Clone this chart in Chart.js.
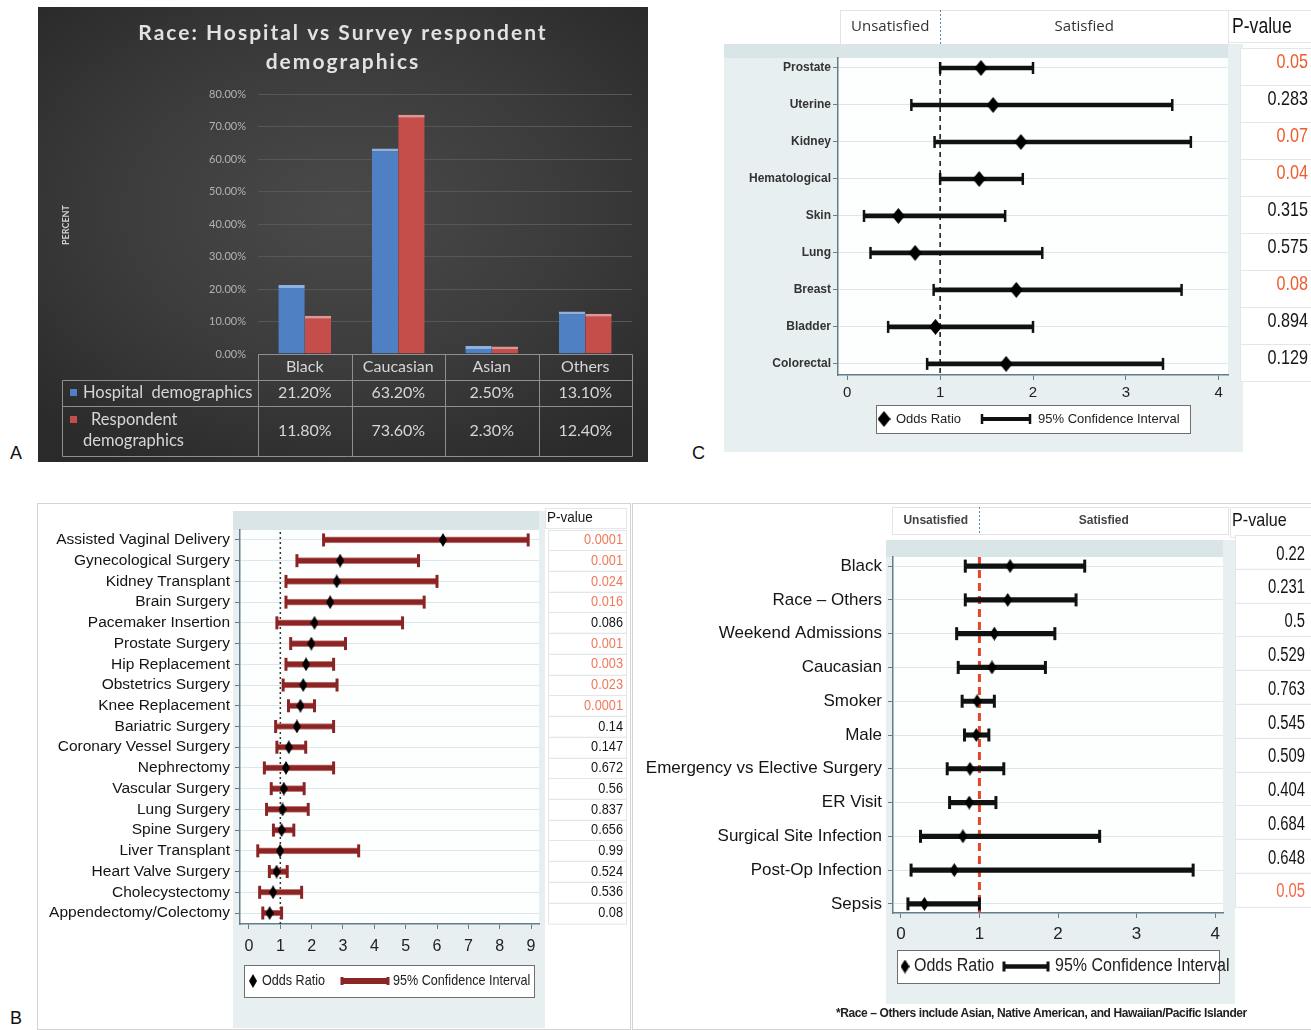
<!DOCTYPE html>
<html lang="en">
<head>
<meta charset="utf-8">
<title>Race demographics and satisfaction odds ratios</title>
<script src="https://cdn.jsdelivr.net/npm/chart.js@4.4.1/dist/chart.umd.min.js"></script>
<style>
  html, body { margin: 0; padding: 0; background: #fff; }
  body { position: relative; width: 1311px; height: 1030px; overflow: hidden; font-family: "Liberation Sans", Arial, sans-serif; }
  .box { position: absolute; box-sizing: border-box; }
  canvas { position: absolute; }
  .tag { position: absolute; font-size: 18px; line-height: 22px; color: #111; }
  .note { position: absolute; left: 836px; top: 1006px; font: bold 12px "Liberation Sans", Arial, sans-serif; letter-spacing: -0.4px; color: #222; white-space: nowrap; }
</style>
</head>
<body>

<!-- panel A -->
<div class="box" style="left:38px;top:7px;width:610px;height:455px;background:radial-gradient(ellipse 70% 65% at 50% 45%, #4a4a4a 0%, #3b3b3b 55%, #2a2a2a 100%);"></div>
<canvas id="raceChart" width="610" height="455" style="left:38px;top:7px;"></canvas>
<div class="tag" style="left:10px;top:442px;">A</div>

<!-- panel C -->
<div class="box" style="left:724px;top:44px;width:519px;height:408px;background:#e7eff1;"></div>
<div class="box" style="left:724px;top:44px;width:504px;height:14px;background:#dae5e8;"></div>
<canvas id="cancerChart" width="591" height="460" style="left:720px;top:0px;"></canvas>
<div class="tag" style="left:692px;top:442px;">C</div>

<!-- panel B -->
<div class="box" style="left:37px;top:503px;width:594px;height:527px;border:1px solid #d3d3d3;"></div>
<div class="box" style="left:632px;top:503px;width:680px;height:527px;border:1px solid #d3d3d3;"></div>
<div class="box" style="left:233px;top:511px;width:312px;height:517px;background:#e7eff1;"></div>
<div class="box" style="left:233px;top:511px;width:306px;height:19px;background:#dae5e8;"></div>
<canvas id="surgeryChart" width="592" height="524" style="left:38px;top:504px;"></canvas>
<div class="box" style="left:886px;top:540px;width:349px;height:464px;background:#e7eff1;"></div>
<div class="box" style="left:886px;top:540px;width:337px;height:17px;background:#dae5e8;"></div>
<canvas id="factorChart" width="679" height="524" style="left:632px;top:504px;"></canvas>
<div class="note">*Race – Others include Asian, Native American, and Hawaiian/Pacific Islander</div>
<div class="tag" style="left:10px;top:1007px;">B</div>

<script>
// ---------- A: race of hospital population vs survey respondents (%) ----------
const raceCategories = ['Black', 'Caucasian', 'Asian', 'Others'];
const hospitalPct = [21.2, 63.2, 2.5, 13.1];
const respondentPct = [11.8, 73.6, 2.3, 12.4];
const raceTitle = ['Race: Hospital vs Survey respondent', 'demographics'];

// ---------- C: cancer type ----------
const cancerTypes = ['Prostate', 'Uterine', 'Kidney', 'Hematological', 'Skin', 'Lung', 'Breast', 'Bladder', 'Colorectal'];
const cancerOR   = [1.44, 1.57, 1.87, 1.42, 0.55, 0.73, 1.82, 0.95, 1.71];
const cancerLow  = [1.00, 0.69, 0.94, 1.00, 0.18, 0.25, 0.93, 0.44, 0.86];
const cancerHigh = [2.00, 3.50, 3.70, 1.89, 1.70, 2.10, 3.60, 2.00, 3.40];
const cancerP    = ['0.05', '0.283', '0.07', '0.04', '0.315', '0.575', '0.08', '0.894', '0.129'];

// ---------- B (left): surgical procedure ----------
const surgeryTypes = ['Assisted Vaginal Delivery', 'Gynecological Surgery', 'Kidney Transplant', 'Brain Surgery',
  'Pacemaker Insertion', 'Prostate Surgery', 'Hip Replacement', 'Obstetrics Surgery', 'Knee Replacement',
  'Bariatric Surgery', 'Coronary Vessel Surgery', 'Nephrectomy', 'Vascular Surgery', 'Lung Surgery',
  'Spine Surgery', 'Liver Transplant', 'Heart Valve Surgery', 'Cholecystectomy', 'Appendectomy/Colectomy'];
const surgeryOR   = [6.19, 2.91, 2.80, 2.59, 2.09, 1.99, 1.82, 1.73, 1.64, 1.53, 1.27, 1.18, 1.11, 1.07, 1.04, 0.99, 0.88, 0.77, 0.66];
const surgeryLow  = [2.38, 1.53, 1.18, 1.18, 0.89, 1.33, 1.18, 1.09, 1.26, 0.85, 0.89, 0.49, 0.71, 0.56, 0.78, 0.28, 0.65, 0.34, 0.44];
const surgeryHigh = [8.91, 5.41, 6.00, 5.59, 4.90, 3.08, 2.70, 2.81, 2.09, 2.70, 1.81, 2.70, 1.76, 1.89, 1.43, 3.50, 1.22, 1.68, 1.04];
const surgeryP    = ['0.0001', '0.001', '0.024', '0.016', '0.086', '0.001', '0.003', '0.023', '0.0001', '0.14',
  '0.147', '0.672', '0.56', '0.837', '0.656', '0.99', '0.524', '0.536', '0.08'];

// ---------- B (right): patient factors ----------
const factorNames = ['Black', 'Race – Others', 'Weekend Admissions', 'Caucasian', 'Smoker', 'Male',
  'Emergency vs Elective Surgery', 'ER Visit', 'Surgical Site Infection', 'Post-Op Infection', 'Sepsis'];
const factorOR   = [1.39, 1.36, 1.19, 1.16, 0.97, 0.96, 0.88, 0.87, 0.79, 0.68, 0.30];
const factorLow  = [0.82, 0.82, 0.71, 0.73, 0.78, 0.81, 0.59, 0.62, 0.25, 0.13, 0.09];
const factorHigh = [2.34, 2.23, 1.96, 1.84, 1.19, 1.12, 1.31, 1.21, 2.53, 3.72, 1.00];
const factorP    = ['0.22', '0.231', '0.5', '0.529', '0.763', '0.545', '0.509', '0.404', '0.684', '0.648', '0.05'];

const satisfactionSides = ['Unsatisfied', 'Satisfied'];

// ---------- shared helpers ----------
const SANS = '"Liberation Sans", Arial, sans-serif';
Chart.defaults.font.family = SANS;
Chart.defaults.color = '#222';

function diamondImage(w, h, color) {
  const c = document.createElement('canvas');
  c.width = w; c.height = h;
  const g = c.getContext('2d');
  g.fillStyle = color;
  g.beginPath();
  g.moveTo(w / 2, 0); g.lineTo(w, h / 2); g.lineTo(w / 2, h); g.lineTo(0, h / 2);
  g.closePath(); g.fill();
  return c;
}

// condensed text: horizontal squeeze of a regular face
function narrowText(ctx, text, x, y, align, sx) {
  ctx.save();
  ctx.translate(x, y);
  ctx.scale(sx, 1);
  ctx.textAlign = align;
  ctx.textBaseline = 'middle';
  ctx.fillText(text, 0, 0);
  ctx.restore();
}

// ---------- A: grouped bars with a data table underneath ----------
const raceTable = {
  id: 'raceTable',
  afterDraw(chart, args, opts) {
    const { ctx, chartArea: ca } = chart;
    const labels = chart.data.labels;
    const n = labels.length;
    const colW = (ca.right - ca.left) / n;
    const left = 24;
    const y0 = ca.bottom, y1 = y0 + 26, y2 = y1 + 26, y3 = y2 + 50;
    const line = (ax, ay, bx, by) => {
      ctx.beginPath();
      ctx.moveTo(Math.round(ax) + 0.5, Math.round(ay) + 0.5);
      ctx.lineTo(Math.round(bx) + 0.5, Math.round(by) + 0.5);
      ctx.stroke();
    };
    ctx.save();

    // spaced two-line heading
    ctx.fillStyle = '#e2e2e2';
    ctx.font = 'bold 21px Lato';
    ctx.letterSpacing = '2px';
    ctx.textAlign = 'center';
    ctx.textBaseline = 'middle';
    opts.title.forEach((t, i) => ctx.fillText(t, chart.width / 2, 26.5 + i * 29));
    ctx.letterSpacing = '0px';

    ctx.strokeStyle = '#8f8f8f';
    ctx.lineWidth = 1;
    line(ca.left, y0, ca.right, y0);
    line(left, y1, ca.right, y1);
    line(left, y2, ca.right, y2);
    line(left, y3, ca.right, y3);
    line(left, y1, left, y3);
    for (let k = 0; k <= n; k++) line(ca.left + k * colW, y0, ca.left + k * colW, y3);

    ctx.fillStyle = '#d6d6d6';
    ctx.font = '16px Lato';
    labels.forEach((lab, k) => ctx.fillText(lab, ca.left + (k + 0.5) * colW, (y0 + y1) / 2));

    const rowMid = [(y1 + y2) / 2, (y2 + y3) / 2];
    chart.data.datasets.forEach((ds, r) => {
      ctx.textAlign = 'center';
      ctx.fillStyle = '#d6d6d6';
      ds.data.forEach((v, k) => ctx.fillText(v.toFixed(2) + '%', ca.left + (k + 0.5) * colW, rowMid[r]));
      ctx.textAlign = 'left';
      ctx.font = '16.5px Lato';
      if (r === 0) {
        ctx.fillStyle = ds.backgroundColor;
        ctx.fillRect(left + 8, rowMid[0] - 4, 7, 7);
        ctx.fillStyle = '#d6d6d6';
        ctx.fillText(ds.label.replace(' ', '  '), left + 21, rowMid[0]);
      } else {
        const words = ds.label.split(' ');
        ctx.fillStyle = ds.backgroundColor;
        ctx.fillRect(left + 8, y2 + 10, 7, 7);
        ctx.fillStyle = '#d6d6d6';
        ctx.fillText(words[0], left + 29, y2 + 14);
        ctx.fillText(words.slice(1).join(' '), left + 21, y2 + 35);
      }
      ctx.font = '16px Lato';
    });

    // rotated axis caption
    ctx.save();
    ctx.translate(28, 218);
    ctx.rotate(-Math.PI / 2);
    ctx.font = 'bold 9px Lato';
    ctx.fillStyle = '#cfcfcf';
    ctx.textAlign = 'center';
    ctx.fillText(chart.options.scales.y.title.text, 0, 0);
    ctx.restore();
    ctx.restore();
  }
};

new Chart(document.getElementById('raceChart'), {
  type: 'bar',
  data: {
    labels: raceCategories,
    datasets: [
      { label: 'Hospital demographics', data: hospitalPct, backgroundColor: '#4f80c4',
        borderColor: '#8db2e2', borderWidth: { top: 3, right: 0, bottom: 0, left: 0 }, borderSkipped: false,
        categoryPercentage: 0.565, barPercentage: 1 },
      { label: 'Respondent demographics', data: respondentPct, backgroundColor: '#c54e4b',
        borderColor: '#e49390', borderWidth: { top: 3, right: 0, bottom: 0, left: 0 }, borderSkipped: false,
        categoryPercentage: 0.565, barPercentage: 1 }
    ]
  },
  options: {
    responsive: false, animation: false, events: [],
    layout: { padding: { left: 16, right: 16, top: 87, bottom: 108 } },
    plugins: {
      legend: { display: false },
      tooltip: { enabled: false },
      title: { display: false },
      raceTable: { title: raceTitle }
    },
    scales: {
      x: { display: false },
      y: {
        min: 0, max: 80,
        title: { display: false, text: 'PERCENT' },
        afterFit: s => { s.width = 204; },
        ticks: { stepSize: 10, padding: 12, color: '#b3b3b3', font: { family: 'Lato', size: 11 },
                 callback: v => v.toFixed(2) + '%' },
        grid: { color: '#575757', drawTicks: false },
        border: { display: false }
      }
    }
  },
  plugins: [raceTable]
});

// ---------- forest plots (odds ratio + 95% CI + p-value column) ----------
function forestPlot(cfg) {
  const canvas = document.getElementById(cfg.id);
  const W = canvas.width, H = canvas.height;
  const rows = cfg.labels.map((_, i) => i);
  const A = cfg.area;
  const yAxisW = A.left - 2, xAxisH = 34;
  const diamond = diamondImage(cfg.diamond[0], cfg.diamond[1], '#000');

  const decor = {
    id: 'forestDecor',
    beforeDraw(chart) {
      const { ctx, chartArea: ca } = chart;
      ctx.save();
      ctx.fillStyle = '#fdfefe';
      ctx.fillRect(ca.left, ca.top, ca.right - ca.left, ca.bottom - ca.top);
      ctx.restore();
    },
    beforeDatasetsDraw(chart) {
      const { ctx, chartArea: ca, scales: { x } } = chart;
      const px = x.getPixelForValue(cfg.ref.value);
      ctx.save();
      ctx.strokeStyle = cfg.ref.color;
      ctx.lineWidth = cfg.ref.width;
      ctx.setLineDash(cfg.ref.dash);
      ctx.beginPath();
      ctx.moveTo(px, ca.top + (cfg.ref.inset || 0));
      ctx.lineTo(px, ca.bottom);
      ctx.stroke();
      ctx.restore();
    },
    afterDraw(chart) {
      const { ctx, scales: { x, y } } = chart;
      const ds = chart.data.datasets;
      ctx.save();

      // Unsatisfied | Satisfied strip split at the reference value
      if (cfg.header) {
        const h = cfg.header;
        const px = Math.round(x.getPixelForValue(cfg.ref.value)) + 0.5;
        ctx.fillStyle = '#fff';
        ctx.fillRect(h.x0, h.y0, h.x1 - h.x0, h.y1 - h.y0);
        ctx.strokeStyle = '#e0e4e6';
        ctx.lineWidth = 1;
        ctx.strokeRect(h.x0 + 0.5, h.y0 + 0.5, h.x1 - h.x0, h.y1 - h.y0);
        ctx.strokeStyle = '#5b86a8';
        ctx.setLineDash([2, 2]);
        ctx.beginPath(); ctx.moveTo(px, h.y0); ctx.lineTo(px, h.y1); ctx.stroke();
        ctx.setLineDash([]);
        ctx.fillStyle = h.color;
        ctx.font = h.font;
        ctx.textAlign = 'center';
        ctx.textBaseline = 'middle';
        ctx.fillText(satisfactionSides[0], (h.x0 + px) / 2, (h.y0 + h.y1) / 2);
        ctx.fillText(satisfactionSides[1], (px + h.x1) / 2, (h.y0 + h.y1) / 2);
      }

      // p-value column
      const P = cfg.pcol;
      const hd = P.head;
      ctx.fillStyle = '#fff';
      ctx.fillRect(hd.x0, hd.y0, hd.x1 - hd.x0, hd.y1 - hd.y0);
      ctx.strokeStyle = '#e3e7e9';
      ctx.lineWidth = 1;
      ctx.strokeRect(hd.x0 + 0.5, hd.y0 + 0.5, hd.x1 - hd.x0, hd.y1 - hd.y0);
      ctx.fillStyle = '#151515';
      ctx.font = hd.font;
      narrowText(ctx, 'P-value', hd.tx, hd.ty, 'left', hd.sx);
      rows.forEach(i => {
        const py = y.getPixelForValue(i);
        const top = Math.round(py + P.cellTop) + 0.5;
        ctx.fillStyle = '#fff';
        ctx.fillRect(P.x0, top, P.x1 - P.x0, P.cellH);
        ctx.strokeStyle = '#e3e7e9';
        ctx.strokeRect(P.x0 + 0.5, top, P.x1 - P.x0, P.cellH);
        ctx.fillStyle = parseFloat(cfg.p[i]) <= cfg.sig ? cfg.sigColor : '#151515';
        ctx.font = P.font;
        narrowText(ctx, cfg.p[i], P.tx, py + P.dy, 'right', P.sx);
      });

      // legend box
      const L = cfg.legend;
      const cy = (L.y0 + L.y1) / 2;
      ctx.fillStyle = '#fff';
      ctx.fillRect(L.x0, L.y0, L.x1 - L.x0, L.y1 - L.y0);
      ctx.strokeStyle = '#6f6f6f';
      ctx.strokeRect(L.x0 + 0.5, L.y0 + 0.5, L.x1 - L.x0, L.y1 - L.y0);
      ctx.drawImage(diamond, L.dx - diamond.width / 2, cy - diamond.height / 2);
      ctx.fillStyle = '#222';
      ctx.font = L.font;
      narrowText(ctx, ds[3].label, L.t1, cy, 'left', L.sx);
      ctx.strokeStyle = cfg.ciColor;
      ctx.lineWidth = cfg.ciWidth;
      ctx.beginPath(); ctx.moveTo(L.c0, cy); ctx.lineTo(L.c1, cy); ctx.stroke();
      ctx.lineWidth = cfg.capW;
      ctx.beginPath();
      ctx.moveTo(L.c0, cy - L.capHalf); ctx.lineTo(L.c0, cy + L.capHalf);
      ctx.moveTo(L.c1, cy - L.capHalf); ctx.lineTo(L.c1, cy + L.capHalf);
      ctx.stroke();
      narrowText(ctx, ds[0].label, L.t2, cy, 'left', L.sx);
      ctx.restore();
    }
  };

  return new Chart(canvas, {
    type: 'bar',
    data: {
      datasets: [
        { label: '95% Confidence Interval',
          data: rows.map(i => ({ y: i, x: [cfg.low[i], cfg.high[i]] })),
          backgroundColor: cfg.ciColor, borderColor: cfg.ciEdge || cfg.ciColor,
          borderWidth: cfg.ciEdgeW || 0, borderSkipped: false, barThickness: cfg.ciWidth, order: 3 },
        { type: 'scatter', label: 'CI lower',
          data: rows.map(i => ({ x: cfg.low[i], y: i })),
          pointStyle: 'line', pointRotation: 90, pointRadius: cfg.capHalf,
          pointBorderWidth: cfg.capW, pointBorderColor: cfg.ciColor, order: 2 },
        { type: 'scatter', label: 'CI upper',
          data: rows.map(i => ({ x: cfg.high[i], y: i })),
          pointStyle: 'line', pointRotation: 90, pointRadius: cfg.capHalf,
          pointBorderWidth: cfg.capW, pointBorderColor: cfg.ciColor, order: 2 },
        { type: 'scatter', label: 'Odds Ratio',
          data: rows.map(i => ({ x: cfg.or[i], y: i })),
          pointStyle: diamond, pointRadius: 5, order: 1 }
      ]
    },
    options: {
      indexAxis: 'y', responsive: false, animation: false, events: [],
      layout: { padding: { left: A.left - yAxisW, top: A.top, right: W - A.right, bottom: H - A.bottom - xAxisH } },
      plugins: { legend: { display: false }, tooltip: { enabled: false }, title: { display: false } },
      scales: {
        x: {
          type: 'linear', min: cfg.xMin, max: cfg.xMax, offset: false,
          afterBuildTicks: s => { s.ticks = cfg.xTicks.map(v => ({ value: v })); },
          afterFit: s => { s.height = xAxisH; },
          grid: { offset: false, drawOnChartArea: false, drawTicks: true, tickLength: 5, tickColor: cfg.axisColor },
          border: { display: true, color: cfg.axisColor, width: 1.5 },
          ticks: { font: cfg.xFont, color: '#222', padding: cfg.xPad, maxRotation: 0, autoSkip: false }
        },
        y: {
          type: 'linear', reverse: true, min: cfg.yMin, max: cfg.yMax, offset: false,
          afterBuildTicks: s => { s.ticks = rows.map(v => ({ value: v })); },
          afterFit: s => { s.width = yAxisW; },
          grid: { offset: false, color: cfg.gridColor, lineWidth: 1, drawTicks: true, tickLength: 5, tickColor: cfg.axisColor },
          border: { display: true, color: cfg.axisColor, width: 1.5 },
          ticks: { font: cfg.yFont, color: cfg.yColor || '#141414', padding: cfg.yPad, autoSkip: false,
                   callback: v => cfg.labels[v] }
        }
      }
    },
    plugins: [decor]
  });
}

// C: cancer type
forestPlot({
  id: 'cancerChart',
  labels: cancerTypes, or: cancerOR, low: cancerLow, high: cancerHigh, p: cancerP,
  sig: 0.08, sigColor: '#ee5b2e',
  area: { left: 118, right: 508, top: 58, bottom: 375 },
  xMin: -0.1, xMax: 4.1, xTicks: [0, 1, 2, 3, 4], yMin: -0.27, yMax: 8.3,
  yFont: { size: 12, weight: 'bold' }, yColor: '#333', yPad: 2, xFont: { size: 15 }, xPad: 4,
  axisColor: '#627d8b', gridColor: '#dce7eb',
  ciColor: '#111', ciWidth: 4, capW: 2.5, capHalf: 6,
  diamond: [13, 16],
  ref: { value: 1, color: '#111', width: 1.5, dash: [5, 4], inset: 4 },
  header: { x0: 120, x1: 508, y0: 10, y1: 44, font: '15px "Open Sans"', color: '#333' },
  pcol: {
    head: { x0: 508, x1: 591, y0: 10, y1: 42, tx: 512, ty: 27, font: '22px ' + SANS, sx: 0.8 },
    x0: 520, x1: 591, cellTop: -20, cellH: 37, tx: 588, dy: -6, font: '21px ' + SANS, sx: 0.77
  },
  legend: { x0: 156, x1: 470, y0: 405, y1: 433, dx: 164, t1: 176, c0: 262, c1: 310, t2: 318,
            font: '13px ' + SANS, sx: 1, capHalf: 5 }
});

// B (left): surgical procedures
forestPlot({
  id: 'surgeryChart',
  labels: surgeryTypes, or: surgeryOR, low: surgeryLow, high: surgeryHigh, p: surgeryP,
  sig: 0.05, sigColor: '#f0795a',
  area: { left: 202, right: 501, top: 26, bottom: 420 },
  xMin: -0.287, xMax: 9.255, xTicks: [0, 1, 2, 3, 4, 5, 6, 7, 8, 9], yMin: -0.48, yMax: 18.53,
  yFont: { size: 15.5 }, yPad: 5, xFont: { size: 16 }, xPad: 8,
  axisColor: '#627d8b', gridColor: '#dce7eb',
  ciColor: '#8b2424', ciEdge: '#c27a76', ciEdgeW: 1, ciWidth: 6, capW: 3, capHalf: 6.5,
  diamond: [8, 14],
  ref: { value: 1, color: '#333', width: 1.5, dash: [2, 3], inset: 2 },
  pcol: {
    head: { x0: 507, x1: 588, y0: 4, y1: 24, tx: 509, ty: 14, font: '15px ' + SANS, sx: 0.9 },
    x0: 510, x1: 588, cellTop: -10.4, cellH: 20.7, tx: 585, dy: 0, font: '15px ' + SANS, sx: 0.85
  },
  legend: { x0: 206, x1: 496, y0: 461, y1: 493, dx: 215, t1: 224, c0: 304, c1: 350, t2: 355,
            font: '15px ' + SANS, sx: 0.84, capHalf: 4 }
});

// B (right): patient factors
forestPlot({
  id: 'factorChart',
  labels: factorNames, or: factorOR, low: factorLow, high: factorHigh, p: factorP,
  sig: 0.05, sigColor: '#f26a48',
  area: { left: 261, right: 591, top: 53, bottom: 409 },
  xMin: -0.1, xMax: 4.1, xTicks: [0, 1, 2, 3, 4], yMin: -0.27, yMax: 10.27,
  yFont: { size: 17 }, yPad: 6, xFont: { size: 17 }, xPad: 6,
  axisColor: '#627d8b', gridColor: '#dce7eb',
  ciColor: '#111', ciWidth: 4.5, capW: 3, capHalf: 6.5,
  diamond: [9, 14],
  ref: { value: 1, color: '#e8442d', width: 3, dash: [8, 5], inset: 0 },
  header: { x0: 260, x1: 596, y0: 3, y1: 30, font: 'bold 12px ' + SANS, color: '#444' },
  pcol: {
    head: { x0: 598, x1: 679, y0: 3, y1: 33, tx: 600, ty: 17, font: '19px ' + SANS, sx: 0.85 },
    x0: 603, x1: 679, cellTop: -31, cellH: 33.8, tx: 673, dy: -12, font: '20px ' + SANS, sx: 0.74
  },
  legend: { x0: 265, x1: 587, y0: 446, y1: 479, dx: 273, t1: 282, c0: 372, c1: 416, t2: 423,
            font: '18px ' + SANS, sx: 0.89, capHalf: 5 }
});
</script>
</body>
</html>
